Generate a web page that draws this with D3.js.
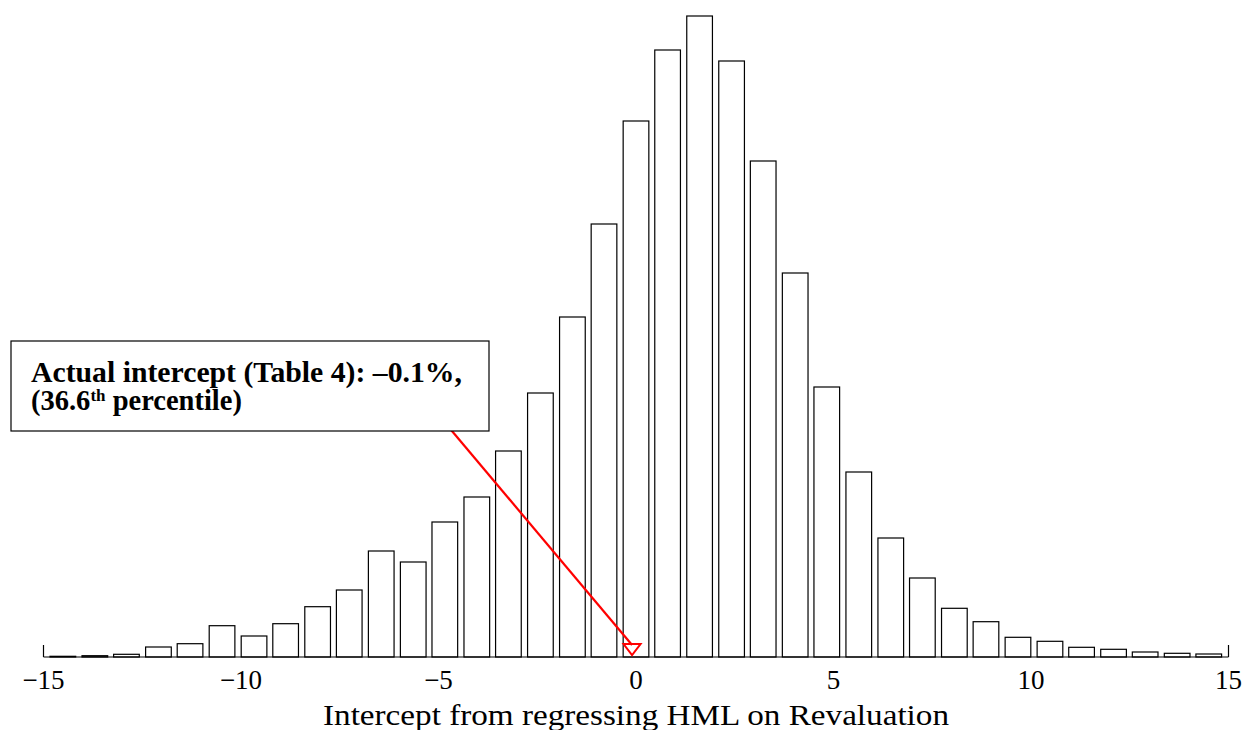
<!DOCTYPE html>
<html>
<head>
<meta charset="utf-8">
<script src="https://cdn.jsdelivr.net/npm/d3@7"></script>
<style>
  body { margin: 0; background: #fff; }
  svg { display: block; }
</style>
</head>
<body>
<svg id="chart"></svg>
<script>
// bin centres of the simulated intercepts (in %)
const binCenters = [-14.51, -13.70, -12.90, -12.09, -11.29, -10.48, -9.67, -8.87, -8.06, -7.26,
  -6.45, -5.64, -4.84, -4.03, -3.23, -2.42, -1.61, -0.81, 0.00, 0.80,
  1.61, 2.42, 3.22, 4.03, 4.83, 5.64, 6.45, 7.25, 8.06, 8.86,
  9.67, 10.48, 11.28, 12.09, 12.89, 13.70, 14.50];
// frequency of each bin (arbitrary units)
const binCounts = [0.7, 1.3, 2.7, 10, 13.3, 31.3, 21, 33.3, 50.3, 67,
  106, 95, 135, 160, 206, 264, 340, 433, 536, 607,
  641, 596, 496, 384, 270, 185, 119, 79, 48.7, 35.3,
  19.7, 15.7, 9.7, 7.7, 5, 3.7, 3];
const xTicks = [-15, -10, -5, 0, 5, 10, 15];
const actualIntercept = -0.1;
const noteLines = ["Actual intercept (Table 4): \u20130.1%,", "(36.6", "th", " percentile)"];
const xTitle = "Intercept from regressing HML on Revaluation";

const W = 1249, H = 730;
const svg = d3.select("#chart").attr("width", W).attr("height", H);

const x = d3.scaleLinear().domain([-15, 15]).range([43.5, 1228.5]);
const y = d3.scaleLinear().domain([0, 641]).range([657, 16]);
const halfBar = 0.325;
const serif = "'Liberation Serif', 'DejaVu Serif', serif";

// bars
svg.append("g")
  .selectAll("rect")
  .data(binCenters)
  .join("rect")
  .attr("x", d => x(d - halfBar))
  .attr("width", d => x(d + halfBar) - x(d - halfBar))
  .attr("y", (d, i) => y(binCounts[i]))
  .attr("height", (d, i) => y(0) - y(binCounts[i]))
  .attr("fill", "#fff")
  .attr("stroke", "#000")
  .attr("stroke-width", 1.2);

// x axis: base line with end ticks pointing up, serif labels
const axis = svg.append("g").attr("transform", `translate(0,${y(0)})`);
axis.append("line")
  .attr("x1", x(-15)).attr("x2", x(15))
  .attr("stroke", "#000").attr("stroke-width", 1.2);
axis.selectAll("line.end")
  .data([-15, 15])
  .join("line")
  .attr("class", "end")
  .attr("x1", d => x(d)).attr("x2", d => x(d))
  .attr("y1", 0).attr("y2", -12)
  .attr("stroke", "#000").attr("stroke-width", 1.2);
axis.selectAll("text")
  .data(xTicks)
  .join("text")
  .attr("x", d => x(d))
  .attr("y", 32)
  .attr("text-anchor", "middle")
  .attr("font-family", serif)
  .attr("font-size", 27)
  .text(d => d < 0 ? "\u2212" + Math.abs(d) : d);

// axis title, stretched a bit to the width of the original (wider) font
svg.append("text")
  .attr("x", 636)
  .attr("y", 725)
  .attr("text-anchor", "middle")
  .attr("font-family", serif)
  .attr("font-size", 28.5)
  .attr("textLength", 626)
  .attr("lengthAdjust", "spacingAndGlyphs")
  .text(xTitle);

// annotation: line to the marker, then box on top
const mx = x(actualIntercept), my = y(0) - 2;
svg.append("line")
  .attr("x1", 420).attr("y1", 393)
  .attr("x2", mx).attr("y2", my - 10)
  .attr("stroke", "red").attr("stroke-width", 2.2);
svg.append("path")
  .attr("d", `M${mx - 8.5},${my - 11} L${mx + 8.5},${my - 11} L${mx},${my} Z`)
  .attr("fill", "none")
  .attr("stroke", "red")
  .attr("stroke-width", 2);

const box = svg.append("g");
box.append("rect")
  .attr("x", 11).attr("y", 341)
  .attr("width", 478).attr("height", 90)
  .attr("fill", "#fff").attr("stroke", "#000").attr("stroke-width", 1.2);
box.append("text")
  .attr("x", 31).attr("y", 382)
  .attr("font-family", serif).attr("font-weight", "bold").attr("font-size", 28.5)
  .attr("textLength", 431)
  .attr("lengthAdjust", "spacingAndGlyphs")
  .text(noteLines[0]);
const l2 = box.append("text")
  .attr("x", 31).attr("y", 410)
  .attr("font-family", serif).attr("font-weight", "bold").attr("font-size", 28.5);
l2.append("tspan").text(noteLines[1]);
l2.append("tspan").attr("font-size", 17).attr("dy", -9).text(noteLines[2]);
l2.append("tspan").attr("dy", 9).text(noteLines[3]);
</script>
</body>
</html>
